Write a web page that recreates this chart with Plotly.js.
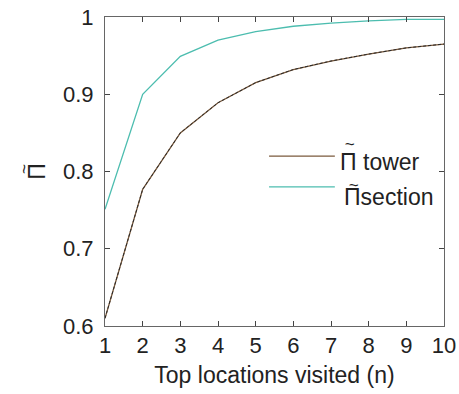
<!DOCTYPE html>
<html>
<head>
<meta charset="utf-8">
<script src="https://cdn.plot.ly/plotly-3.0.1.min.js"></script>
<style>html,body{margin:0;padding:0;background:#fff;}#chart{width:459px;height:394px;}</style>
</head>
<body>
<div id="chart"></div>
<script>
const visited = [1, 2, 3, 4, 5, 6, 7, 8, 9, 10];
const piTower = [0.610, 0.777, 0.850, 0.889, 0.915, 0.932, 0.943, 0.952, 0.960, 0.965];
const piSection = [0.751, 0.900, 0.949, 0.970, 0.981, 0.988, 0.992, 0.995, 0.997, 0.997];
const xTicks = [1, 2, 3, 4, 5, 6, 7, 8, 9, 10];
const yTicks = [0.6, 0.7, 0.8, 0.9, 1];
const yTickText = ['0.6', '0.7', '0.8', '0.9', '1'];
const seriesNames = ['tower', 'section'];

const brown = '#7b5a3c';
const teal = '#4cbdaf';
const ink = '#222';
const font = 'Liberation Sans, Arial, sans-serif';
const tildeLine = '<span style="font-size:17px">\u00a0~</span>';
// tilde stacked above Pi (two lines of one text)
const piTilde = tildeLine + '<br><span style="font-size:23px">Π</span>';

const traces = [
  {x: visited, y: piSection, mode: 'lines', line: {color: teal, width: 1.3}, showlegend: false},
  {x: visited, y: piTower, mode: 'lines', line: {color: brown, width: 1.3}, showlegend: false},
  {x: visited, y: piTower, mode: 'lines', line: {color: '#2a2a2a', width: 1, dash: '3px,2px'}, showlegend: false}
];

const axisCommon = {
  showgrid: false, zeroline: false, showline: true, linecolor: '#666', linewidth: 1,
  mirror: 'ticks', ticks: 'inside', ticklen: 5, tickcolor: '#444', tickwidth: 1,
  tickfont: {family: font, size: 22, color: ink}
};

function legendText(x, y, label, gap, base) {
  return {xref: 'paper', yref: 'paper', x: x, y: y, xanchor: 'left', yanchor: 'middle', align: 'left',
          showarrow: false,
          text: tildeLine + '<br><span style="font-size:23px">Π' + gap + label + '</span>',
          font: {family: font, size: base, color: ink}};
}

const layout = {
  width: 459, height: 394,
  margin: {l: 105, r: 15, t: 17, b: 68},
  paper_bgcolor: '#fff', plot_bgcolor: '#fff',
  showlegend: false,
  xaxis: Object.assign({}, axisCommon, {
    range: [1, 10], tickvals: xTicks, ticktext: xTicks.map(String),
    title: {text: 'Top locations visited (n)', font: {family: font, size: 23, color: ink}, standoff: 9}
  }),
  yaxis: Object.assign({}, axisCommon, {
    range: [0.6, 1], tickvals: yTicks, ticktext: yTickText, ticklabelstandoff: 6,
    title: {text: piTilde, font: {family: font, size: 12, color: ink}, standoff: 14}
  }),
  shapes: [
    {type: 'line', xref: 'paper', yref: 'paper', x0: 0.484, x1: 0.678, y0: 0.55, y1: 0.55, line: {color: brown, width: 1.3}},
    {type: 'line', xref: 'paper', yref: 'paper', x0: 0.484, x1: 0.678, y0: 0.45, y1: 0.45, line: {color: teal, width: 1.3}}
  ],
  annotations: [
    legendText(0.688, 0.555, seriesNames[0], ' ', 15),
    legendText(0.700, 0.431, seriesNames[1], '', 11)
  ]
};

Plotly.newPlot('chart', traces, layout, {displayModeBar: false, staticPlot: true});
</script>
</body>
</html>
